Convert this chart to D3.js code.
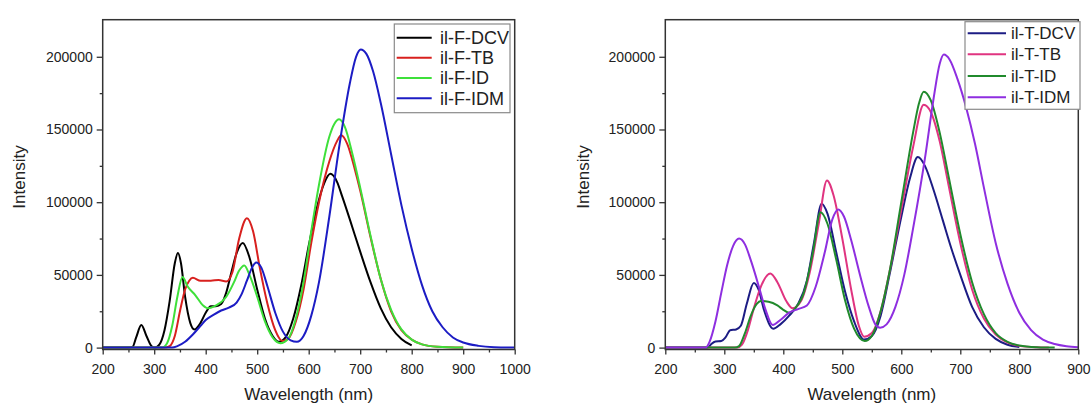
<!DOCTYPE html>
<html>
<head>
<meta charset="utf-8">
<script src="https://cdn.jsdelivr.net/npm/d3@7"></script>
<style>
body{margin:0;background:#fff}
svg{display:block;font-family:"Liberation Sans",Arial,sans-serif}
</style>
</head>
<body>
<script>
// data: [wavelength nm, intensity]
var fDCV=[[200,0],[250,0],[258,500],[265,7000],[275,15500],[285,8000],[295,1000],[302,0],[310,2000],[320,12000],[330,32000],[340,58000],[346,65000],[352,58000],[360,35000],[370,17000],[378,12500],[390,17000],[400,24000],[410,28500],[420,28500],[430,30000],[440,38000],[450,52000],[460,65000],[472,72000],[485,62000],[500,40000],[515,20000],[530,8000],[542,4000],[555,7000],[570,20000],[585,42000],[600,70000],[615,95000],[630,113000],[642,119500],[655,114000],[665,104000],[680,88000],[700,66000],[720,45000],[740,27000],[760,14000],[780,6000],[800,1500]]
var fTB=[[200,0],[320,0],[330,1000],[340,8000],[350,25000],[360,40000],[368,46000],[375,48000],[390,46000],[410,46000],[425,46500],[440,45500],[452,52000],[465,75000],[480,89000],[492,80000],[505,55000],[520,30000],[535,12000],[549,4500],[560,6000],[575,18000],[590,40000],[605,72000],[620,100000],[640,128000],[655,142000],[663,146000],[675,140000],[690,122000],[700,108000],[720,76000],[740,47000],[760,25000],[780,12000],[800,5500],[820,2200],[850,600],[900,0]]
var fID=[[200,0],[315,0],[325,3000],[335,15000],[345,35000],[355,48500],[365,42000],[380,36000],[395,29000],[405,27000],[420,29000],[440,35000],[455,45000],[465,53000],[475,56500],[485,50000],[500,35000],[515,18000],[530,7000],[545,3000],[560,6000],[575,20000],[590,45000],[605,80000],[620,112000],[640,145000],[650,154000],[659,157000],[670,152000],[685,133000],[700,110000],[720,77000],[740,47000],[760,26000],[780,12500],[800,5500],[820,2200],[850,600],[900,0]]
var fIDM=[[200,0],[335,0],[345,1000],[360,4000],[375,9000],[390,15000],[400,19000],[415,22500],[430,25500],[445,27500],[460,31000],[470,37000],[480,46000],[490,55000],[498,58500],[508,55000],[520,42000],[535,24000],[550,11000],[565,5000],[577,4000],[590,8000],[605,22000],[620,45000],[640,90000],[660,140000],[680,182000],[692,200000],[701,205000],[712,202000],[725,190000],[740,168000],[760,133000],[780,98000],[800,68000],[820,43000],[840,25000],[860,14000],[880,7000],[900,3500],[930,1200],[960,300],[1000,0]]

var tDCV=[[200,0],[272,0],[278,2500],[285,4200],[295,4500],[302,7000],[310,12000],[320,12500],[328,15000],[338,30000],[350,44500],[358,40000],[368,25000],[383,13000],[395,16000],[410,22000],[425,30000],[440,46000],[452,72000],[465,99000],[475,92000],[490,65000],[505,38000],[520,18000],[537,5500],[550,8000],[565,22000],[580,50000],[600,90000],[615,117000],[628,131000],[640,125000],[655,108000],[670,88000],[685,68000],[700,50000],[720,28000],[740,14000],[760,6000],[780,2000],[800,500]]
var tTB=[[200,0],[322,0],[330,2000],[340,12000],[350,27000],[362,42000],[378,51000],[390,45000],[405,32000],[416,27000],[430,32000],[445,52000],[460,85000],[474,115000],[485,105000],[500,75000],[515,40000],[528,15000],[537,7500],[550,10000],[565,25000],[580,52000],[600,95000],[620,138000],[638,167000],[650,162000],[665,142000],[680,112000],[700,72000],[720,40000],[740,20000],[760,9000],[780,3500],[800,1200],[830,200],[850,0]]
var tID=[[200,0],[318,0],[325,1000],[335,10000],[345,22000],[355,30000],[362,32000],[375,31500],[390,29000],[400,26000],[410,24000],[420,27000],[435,38000],[450,65000],[463,93000],[475,85000],[490,60000],[505,32000],[520,13000],[538,4500],[550,8000],[565,25000],[580,52000],[600,100000],[620,148000],[630,168000],[638,176000],[650,170000],[665,148000],[680,118000],[700,78000],[720,45000],[740,23000],[760,10000],[780,4000],[800,1500],[830,300],[860,0]]
var tIDM=[[200,0],[268,0],[275,4000],[285,18000],[295,38000],[305,57000],[315,70000],[325,75000],[335,71000],[345,60000],[360,40000],[370,26000],[382,15500],[395,19000],[410,24000],[425,26500],[440,29000],[455,42000],[470,65000],[483,88000],[493,95000],[503,90000],[515,74000],[530,50000],[545,28000],[556,16000],[564,13700],[575,16000],[590,28000],[605,50000],[620,82000],[640,130000],[655,172000],[665,195000],[672,201500],[682,198000],[695,185000],[710,165000],[725,140000],[740,110000],[760,72000],[780,44000],[800,24000],[820,12000],[840,5500],[860,2500],[880,1000],[900,300]]

var fNames=["il-F-DCV","il-F-TB","il-F-ID","il-F-IDM"]
var tNames=["il-T-DCV","il-T-TB","il-T-ID","il-T-IDM"]
var fColors=["#000000","#d8201e","#3ee03a","#1c1cc4"]
var tColors=["#1c1c84","#e03480","#208a2c","#8e2ee0"]

var yTicks=[0,50000,100000,150000,200000]
var yMinor=[25000,75000,125000,175000]
var fXTicks=[200,300,400,500,600,700,800,900,1000]
var fXMinor=[250,350,450,550,650,750,850,950]
var tXTicks=[200,300,400,500,600,700,800,900]
var tXMinor=[250,350,450,550,650,750,850]

var W=1091,H=403
var plotTop=19.7,plotBottom=349.5

var svg=d3.select('body').append('svg')
	.attr('width',W).attr('height',H)

function panel(opt){
	var x=d3.scaleLinear().domain(opt.xdom).range([opt.left,opt.right])
	var y=d3.scaleLinear().domain([-1300,225500]).range([plotBottom,plotTop])
	var g=svg.append('g')

	var line=d3.line()
		.x(function(d){return x(d[0])})
		.y(function(d){return y(d[1])})
		.curve(d3.curveMonotoneX)

	opt.series.forEach(function(s,i){
		g.append('path').datum(s)
			.attr('d',line)
			.attr('fill','none')
			.attr('stroke',opt.colors[i])
			.attr('stroke-width',2)
			.attr('stroke-linejoin','round')
	})

	// frame
	g.append('rect')
		.attr('x',opt.left).attr('y',plotTop)
		.attr('width',opt.right-opt.left).attr('height',plotBottom-plotTop)
		.attr('fill','none').attr('stroke','#333').attr('stroke-width',1.5)

	g.append('g').attr('transform','translate(0,'+plotBottom+')')
		.call(d3.axisBottom(x).tickValues(opt.xticks).tickSize(5).tickPadding(9.5).tickFormat(d3.format('d')))
	g.append('g').attr('transform','translate(0,'+plotBottom+')')
		.call(d3.axisBottom(x).tickValues(opt.xminor).tickSize(3).tickFormat(''))
	g.append('g').attr('transform','translate('+opt.left+',0)')
		.call(d3.axisLeft(y).tickValues(yTicks).tickSize(6).tickPadding(4).tickFormat(d3.format('d')))
	g.append('g').attr('transform','translate('+opt.left+',0)')
		.call(d3.axisLeft(y).tickValues(yMinor).tickSize(3).tickFormat(''))

	g.selectAll('.domain').remove()
	g.selectAll('.tick line').attr('stroke','#333').attr('stroke-width',1.3)
	g.selectAll('.tick text').attr('fill','#222').style('font-size','14px')
		.style('font-family','"Liberation Sans",Arial,sans-serif')

	g.append('text').text('Wavelength (nm)')
		.attr('x',(opt.left+opt.right)/2).attr('y',400)
		.attr('text-anchor','middle').style('font-size','17px').attr('fill','#222')
	g.append('text').text('Intensity')
		.attr('transform','translate('+opt.ylabx+',177) rotate(-90)')
		.attr('text-anchor','middle').style('font-size','17px').attr('fill','#222')

	// legend
	var L=opt.legend
	g.append('rect').attr('x',L.x0).attr('y',L.y0)
		.attr('width',L.x1-L.x0).attr('height',L.y1-L.y0)
		.attr('fill','#fff').attr('stroke','#8a8a8a').attr('stroke-width',1.2)
	opt.names.forEach(function(n,i){
		var yy=L.rows[i]
		g.append('line').attr('x1',L.lx0).attr('x2',L.lx1)
			.attr('y1',yy).attr('y2',yy)
			.attr('stroke',opt.colors[i]).attr('stroke-width',2)
		g.append('text').text(n).attr('x',L.tx).attr('y',yy)
			.attr('dy','0.36em').style('font-size',L.fs+'px').attr('fill','#222')
	})
}

panel({
	xdom:[200,1000],left:102.7,right:514.7,
	series:[fDCV,fTB,fID,fIDM],colors:fColors,names:fNames,
	xticks:fXTicks,xminor:fXMinor,ylabx:25,
	legend:{x0:394.3,x1:510,y0:24,y1:112.7,lx0:396.7,lx1:431.7,tx:440,rows:[37.7,57.8,78,98.3],fs:18}
})
panel({
	xdom:[200,900],left:665.3,right:1078.3,
	series:[tDCV,tTB,tID,tIDM],colors:tColors,names:tNames,
	xticks:tXTicks,xminor:tXMinor,ylabx:589,
	legend:{x0:965,x1:1080,y0:21.7,y1:109.3,lx0:967.7,lx1:1006,tx:1011,rows:[33.3,54.3,76,97.3],fs:17}
})
</script>
</body>
</html>
